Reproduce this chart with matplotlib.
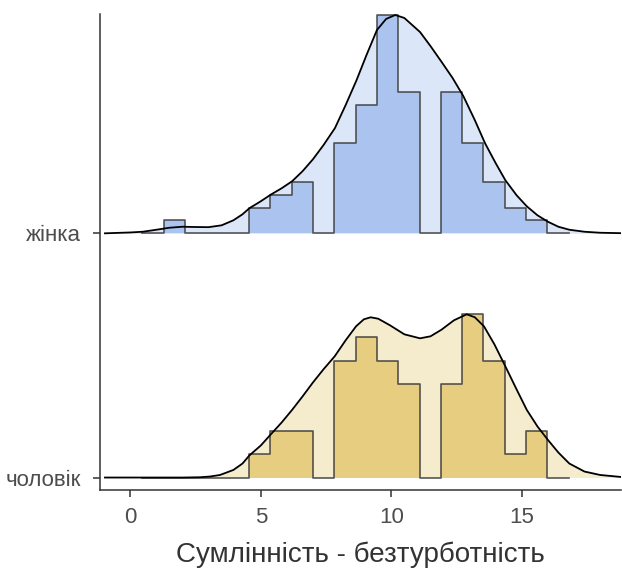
import matplotlib.pyplot as plt
import numpy as np

plt.rcParams['font.family'] = ['Liberation Sans', 'DejaVu Sans']

groups = ['чоловік', 'жінка']

# histogram bins shared by both groups
bin_start = 0.46
bin_width = 0.817
female_counts = [0, 1, 0, 0, 0, 2, 3, 4, 0, 7, 10, 17, 11, 0, 11, 7, 4, 2, 1, 0]
male_counts = [0, 0, 0, 0, 0, 1, 2, 2, 0, 5, 6, 5, 4, 0, 4, 7, 5, 1, 2, 0]

# kernel density estimates
female_kde_x = [-0.97, 0.0, 0.48, 1.0, 1.5, 2.0, 2.5, 3.0, 3.5, 3.95, 4.3, 4.56, 5.0,
                5.38, 5.8, 6.2, 6.6, 7.0, 7.4, 7.84, 8.25, 8.67, 9.05, 9.45, 9.8, 10.15,
                10.5, 10.8, 11.1, 11.5, 11.93, 12.35, 12.76, 13.2, 13.59, 14.0, 14.37,
                14.8, 15.19, 15.6, 16.0, 16.4, 16.82, 17.4, 18.0, 18.8]
female_kde = [0.0, 0.0006, 0.0011, 0.0025, 0.0039, 0.0046, 0.0044, 0.0043, 0.0056,
              0.0091, 0.0133, 0.0175, 0.0224, 0.0270, 0.0315, 0.0364, 0.0434, 0.0518,
              0.0616, 0.0735, 0.0896, 0.1071, 0.1246, 0.1421, 0.1498, 0.1526, 0.1505,
              0.1456, 0.1407, 0.1309, 0.1197, 0.1085, 0.0959, 0.0791, 0.0630, 0.0490,
              0.0371, 0.0266, 0.0189, 0.0126, 0.0081, 0.0046, 0.0025, 0.0011, 0.0004,
              0.0001]
male_kde_x = [-0.97, 2.0, 2.67, 3.05, 3.44, 3.95, 4.3, 4.56, 5.0, 5.38, 5.8, 6.2, 6.6,
              7.0, 7.4, 7.83, 8.25, 8.65, 8.95, 9.21, 9.5, 9.95, 10.5, 11.1, 11.5, 11.92,
              12.4, 12.89, 13.2, 13.55, 13.95, 14.37, 14.8, 15.19, 15.6, 16.0, 16.4,
              16.82, 17.4, 18.0, 18.8]
male_kde = [0.0, 0.0, 0.0002, 0.0007, 0.0018, 0.0053, 0.0098, 0.0154, 0.0224, 0.0301,
            0.0385, 0.0473, 0.0567, 0.0665, 0.0756, 0.0847, 0.0959, 0.1057, 0.1106,
            0.1120, 0.1110, 0.1064, 0.1001, 0.0973, 0.0987, 0.1033, 0.1099, 0.1141,
            0.1120, 0.1057, 0.0931, 0.0777, 0.0616, 0.0473, 0.0357, 0.0263, 0.0175,
            0.0098, 0.0042, 0.0018, 0.0004]

ridge_scale = 0.894

edges = bin_start + bin_width * np.arange(len(female_counts) + 1)

def hist_density(counts):
  c = np.array(counts, dtype=float)
  return c / (c.sum() * bin_width)

hist_f = hist_density(female_counts)
hist_m = hist_density(male_counts)
hist_k = ridge_scale / max(hist_f.max(), hist_m.max())
kde_k = ridge_scale / max(max(female_kde), max(male_kde))

fig = plt.figure(figsize=(6.22, 5.70), dpi=100)
ax = fig.add_axes([100 / 622, 80 / 570, 521 / 622, 476 / 570])

ridges = [
  (0, male_kde_x, male_kde, hist_m, '#f5eccd', '#e6cd80'),
  (1, female_kde_x, female_kde, hist_f, '#dbe6f8', '#abc4ef'),
]
for base, kx, ky, hd, light, dark in ridges:
  ky = np.array(ky) * kde_k
  z = base * 4
  ax.fill_between(kx, base, base + ky, color=light, lw=0, zorder=1 + z)
  hy = np.append(hd, hd[-1]) * hist_k
  ax.fill_between(edges, base, base + hy, step='post', color=dark, lw=0, zorder=2 + z)
  ax.step(edges, base + hy, where='post', color='#3a3a3a', alpha=0.85, lw=1.2, zorder=3 + z)
  ax.plot(edges[[0, 0]], [base, base + hy[0]], color='#3a3a3a', lw=1.2, zorder=3 + z)
  ax.plot(edges[[-1, -1]], [base, base + hy[-2]], color='#3a3a3a', lw=1.2, zorder=3 + z)
  ax.plot(kx, base + ky, color='black', lw=1.3, zorder=4 + z)

ax.set_xlim(-1.16, 18.8)
ax.set_ylim(-0.051, 1.898)
ax.set_xticks([0, 5, 10, 15])
ax.set_yticks([0, 1])
ax.set_yticklabels(groups)
ax.tick_params(colors='#333333', labelcolor='#4d4d4d', labelsize=16, length=5, width=1.1)
ax.tick_params(axis='x', pad=7)
ax.tick_params(axis='y', pad=9)
for s in ['top', 'right']:
  ax.spines[s].set_visible(False)
for s in ['left', 'bottom']:
  ax.spines[s].set_color('#333333')
  ax.spines[s].set_linewidth(1.1)
ax.set_xlabel('Сумлінність - безтурботність', fontsize=20, color='#333333', labelpad=10)

fig.savefig('out.png', dpi=100)
